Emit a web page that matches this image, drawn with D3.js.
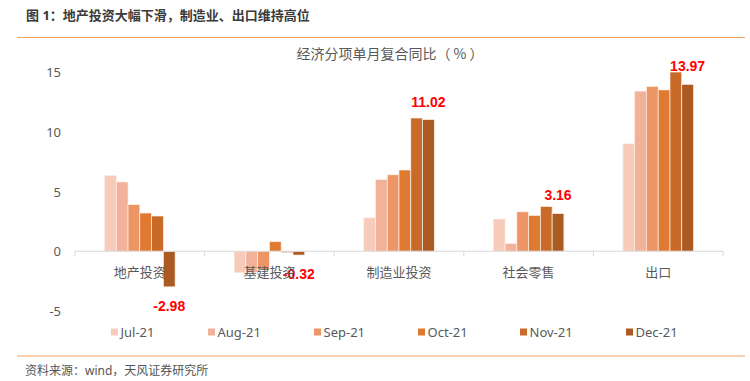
<!DOCTYPE html>
<html>
<head>
<meta charset="utf-8">
<script src="https://cdn.jsdelivr.net/npm/d3@7"></script>
<style>
  body { margin: 0; background: #fff; }
  svg { display: block; font-family: "Noto Sans", "Noto Sans CJK SC", sans-serif; }
</style>
</head>
<body>
<div id="chart"></div>
<script>
// data
const categories = ['地产投资', '基建投资', '制造业投资', '社会零售', '出口'];
const months = ['Jul-21', 'Aug-21', 'Sep-21', 'Oct-21', 'Nov-21', 'Dec-21'];
const colors = ['#F7CBB9', '#F2B199', '#EE9565', '#E07A30', '#C96A29', '#AB5A21'];

// one array per category, Jul..Dec
const property = [6.35, 5.8, 3.9, 3.2, 2.95, -2.98];
const infra = [-1.8, -1.8, -1.55, 0.8, -0.12, -0.32];
const manufacturing = [2.8, 6.0, 6.4, 6.8, 11.15, 11.02];
const retail = [2.7, 0.65, 3.3, 3.0, 3.75, 3.16];
const exports = [9.0, 13.4, 13.8, 13.5, 15.0, 13.97];

const yTicks = [-5, 0, 5, 10, 15];
const labelMonth = 'Dec-21'; // only the last month is labelled

const rows = [property, infra, manufacturing, retail, exports];

const width = 750, height = 381;
const svg = d3.select('#chart').append('svg')
    .attr('width', width)
    .attr('height', height);

// header + rules
svg.append('text')
    .attr('x', 26).attr('y', 15)
    .attr('dominant-baseline', 'central')
    .attr('font-size', 13).attr('font-weight', 'bold')
    .attr('fill', '#3a3a3a')
    .text('图 1：地产投资大幅下滑，制造业、出口维持高位');

svg.append('line')
    .attr('x1', 17).attr('x2', 745).attr('y1', 37.5).attr('y2', 37.5)
    .attr('stroke', '#F4A460').attr('stroke-width', 1.2);

svg.append('line')
    .attr('x1', 17).attr('x2', 745).attr('y1', 356).attr('y2', 356)
    .attr('stroke', '#F4A460').attr('stroke-width', 1.2);

svg.append('text')
    .attr('x', 25).attr('y', 370.5)
    .attr('dominant-baseline', 'central')
    .attr('font-size', 12).attr('fill', '#555')
    .text('资料来源：wind，天风证券研究所');

// chart title
svg.append('text')
    .attr('x', 390).attr('y', 53)
    .attr('text-anchor', 'middle')
    .attr('dominant-baseline', 'central')
    .attr('font-family', '"Noto Sans CJK SC", sans-serif')
    .attr('font-size', 14).attr('fill', '#595959')
    .text('经济分项单月复合同比（ % ）');

// scales
const x0 = d3.scaleBand()
    .domain(categories)
    .range([75, 723])
    .padding(0);

const groupW = x0.bandwidth() * 0.545;
const x1 = d3.scaleBand()
    .domain(months)
    .range([0, groupW])
    .padding(0);

const y = d3.scaleLinear()
    .domain([-5, 15])
    .range([311, 72]);

const color = d3.scaleOrdinal().domain(months).range(colors);

// y labels (no gridlines, no axis line)
svg.append('g')
  .selectAll('text')
  .data(yTicks)
  .enter().append('text')
    .attr('x', 61)
    .attr('y', (d) => y(d))
    .attr('text-anchor', 'end')
    .attr('dominant-baseline', 'central')
    .attr('font-size', 13)
    .attr('fill', '#595959')
    .text((d) => d);

// bars
const groups = svg.append('g')
  .selectAll('g')
  .data(categories)
  .enter().append('g')
    .attr('transform', (d) => 'translate(' + (x0(d) + (x0.bandwidth() - groupW) / 2) + ',0)');

groups.selectAll('rect')
    .data((d, i) => months.map((m, j) => ({ cat: d, month: m, value: rows[i][j] })))
    .enter().append('rect')
    .attr('x', (d) => x1(d.month))
    .attr('width', x1.bandwidth())
    .attr('y', (d) => y(Math.max(0, d.value)))
    .attr('height', (d) => Math.abs(y(d.value) - y(0)))
    .attr('fill', (d) => color(d.month))
    .attr('stroke', '#fdf0e8')
    .attr('stroke-width', 0.7);

// x axis line with ticks at category boundaries
const axisY = y(0);
svg.append('line')
    .attr('x1', 75).attr('x2', 723).attr('y1', axisY).attr('y2', axisY)
    .attr('stroke', '#D9D9D9').attr('stroke-width', 1);

const bounds = categories.map((c) => x0(c)).concat([x0.range()[1]]);
svg.append('g')
  .selectAll('line')
  .data(bounds)
  .enter().append('line')
    .attr('x1', (d) => d).attr('x2', (d) => d)
    .attr('y1', axisY).attr('y2', axisY + 5)
    .attr('stroke', '#D9D9D9');

// category labels
svg.append('g')
  .selectAll('text')
  .data(categories)
  .enter().append('text')
    .attr('x', (d) => x0(d) + x0.bandwidth() / 2)
    .attr('y', 272)
    .attr('text-anchor', 'middle')
    .attr('dominant-baseline', 'central')
    .attr('font-size', 13)
    .attr('fill', '#595959')
    .text((d) => d);

// data labels on the Dec bars (drawn after the category labels, as in the original)
groups.selectAll('.lbl')
    .data((d, i) => [{ month: labelMonth, value: rows[i][months.indexOf(labelMonth)] }])
    .enter().append('text')
    .attr('class', 'lbl')
    .attr('x', (d) => x1(d.month) + x1.bandwidth() / 2)
    .attr('y', (d) => d.value >= 0 ? y(d.value) - 18 : y(d.value) + 19)
    .attr('text-anchor', 'middle')
    .attr('dominant-baseline', 'central')
    .attr('font-family', '"Liberation Sans", Arial, sans-serif')
    .attr('font-size', 14)
    .attr('font-weight', 'bold')
    .attr('fill', '#FF0000')
    .text((d) => d.value.toFixed(2));

groups.raise();

// legend
const legendX = [111, 208, 314, 418, 520, 626];
const legend = svg.append('g')
  .selectAll('g')
  .data(months)
  .enter().append('g')
    .attr('transform', (d, i) => 'translate(' + legendX[i] + ',332)');

legend.append('rect')
    .attr('x', 0).attr('y', -3.5)
    .attr('width', 7).attr('height', 7)
    .attr('fill', (d) => color(d));

legend.append('text')
    .attr('x', 9.5).attr('y', 0)
    .attr('dominant-baseline', 'central')
    .attr('font-size', 13)
    .attr('fill', '#595959')
    .text((d) => d);
</script>
</body>
</html>
